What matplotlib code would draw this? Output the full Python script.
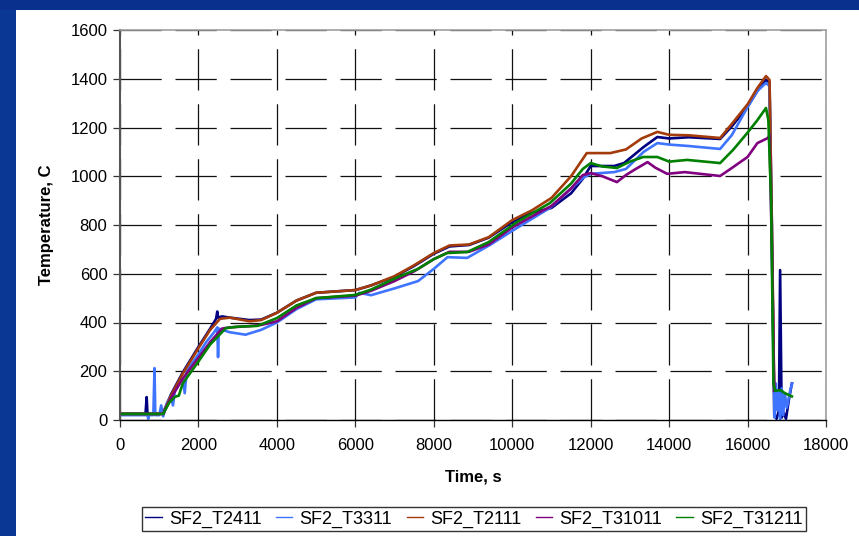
import matplotlib
matplotlib.use("Agg")
import matplotlib.pyplot as plt
from matplotlib.patches import Rectangle
from matplotlib.lines import Line2D
import numpy as np

plt.rcParams['font.family'] = ['Liberation Sans', 'DejaVu Sans']

# Thermocouple traces: (time s, temperature C)
t_2411 = [0, 650, 680, 700, 720, 1000, 1100, 1300, 1600, 2000, 2300, 2450, 2480, 2500, 2600, 2800, 3300, 3600,
          4000, 4500, 5000, 6000, 6400, 7000, 7500, 8000, 8400, 8900, 9400, 10000, 10500, 11000, 11500, 11800,
          12000, 12600, 12850, 13350, 13700, 14000, 14500, 15300, 15600, 16000, 16250, 16470, 16560, 16620,
          16680, 16740, 16800, 16830, 16870, 16920, 16980, 17050, 17130]
T_2411 = [25, 25, 94, 25, 25, 25, 30, 105, 195, 300, 375, 415, 445, 420, 425, 420, 410, 412,
          440, 490, 522, 533, 552, 588, 632, 682, 712, 718, 748, 812, 850, 870, 930, 990,
          1042, 1042, 1054, 1120, 1161, 1155, 1160, 1153, 1205, 1285, 1350, 1395, 1385, 800,
          20, 5, 40, 615, 10, 30, 5, 80, 150]

t_3311 = [0, 700, 720, 740, 850, 880, 900, 920, 1000, 1050, 1100, 1200, 1300, 1350, 1400, 1600, 1650, 1700,
          2000, 2200, 2400, 2480, 2500, 2520, 2600, 2800, 3200, 3600, 4000, 4500, 5000, 6000, 6100, 6400,
          7000, 7600, 8000, 8350, 8850, 9430, 10120, 10960, 11800, 12000, 12600, 12900, 13350, 13700, 14000,
          14500, 15300, 15600, 16000, 16250, 16470, 16560, 16620, 16660, 16690, 16720, 16760, 16790, 16830,
          16870, 16910, 16950, 17000, 17050, 17100, 17140]
T_3311 = [20, 20, 5, 20, 20, 213, 20, 20, 20, 60, 15, 70, 100, 60, 120, 170, 110, 200,
          270, 320, 360, 380, 258, 375, 370, 360, 350, 370, 400, 455, 495, 503, 522, 512,
          540, 570, 620, 668, 665, 718, 788, 870, 993, 1010, 1017, 1030, 1100, 1136, 1130,
          1124, 1112, 1169, 1284, 1350, 1383, 1370, 700, 260, 10, 150, 40, 120, 0, 130, 20, 110, 50, 90, 130, 150]

t_2111 = [0, 1100, 1300, 1600, 2000, 2300, 2550, 2800, 3300, 3600, 4000, 4500, 5000, 6000, 6400, 7000, 7500,
          8000, 8400, 8900, 9400, 10000, 10500, 11000, 11500, 11900, 12500, 12900, 13300, 13700, 14000, 14500,
          15300, 15600, 16000, 16250, 16470, 16560, 16620, 16680]
T_2111 = [25, 25, 100, 190, 295, 370, 415, 420, 405, 410, 440, 490, 522, 533, 552, 590, 635,
          685, 716, 720, 750, 820, 860, 911, 1000, 1095, 1095, 1110, 1155, 1182, 1170, 1168,
          1157, 1215, 1295, 1362, 1411, 1395, 800, 120]

t_31011 = [0, 1100, 1300, 1600, 2000, 2300, 2600, 2800, 3300, 3600, 4000, 4500, 5000, 6000, 6400, 7000,
           7500, 8000, 8400, 8900, 9400, 10000, 10500, 11000, 11500, 11800, 12000, 12300, 12670, 12900, 13150,
           13450, 13650, 13950, 14400, 15300, 15600, 16000, 16250, 16520, 16560, 16620, 16680]
T_31011 = [25, 25, 90, 170, 255, 320, 375, 380, 385, 390, 405, 460, 500, 510, 530, 570,
           610, 660, 690, 690, 720, 790, 835, 878, 950, 1005, 1013, 1000, 976, 1005, 1030,
           1058, 1035, 1010, 1017, 1001, 1034, 1079, 1136, 1157, 1170, 700, 120]

t_31211 = [0, 1100, 1250, 1400, 1500, 1600, 2000, 2300, 2700, 3000, 3500, 4000, 4500, 5000, 6000, 6400,
           7100, 7600, 8000, 8340, 8850, 9400, 10120, 10960, 11500, 11800, 12000, 12300, 12670, 13000, 13340,
           13700, 14000, 14460, 15300, 15630, 15990, 16250, 16470, 16530, 16600, 16660, 16700, 16850, 16950,
           17130]
T_31211 = [25, 25, 70, 95, 100, 150, 240, 310, 377, 383, 386, 418, 470, 500, 513, 535,
           587, 620, 660, 685, 689, 730, 812, 890, 970, 1030, 1054, 1040, 1034, 1060, 1079,
           1079, 1060, 1067, 1054, 1108, 1177, 1230, 1280, 1231, 900, 150, 120, 122, 110,
           97]

series = [
    ("SF2_T2411", t_2411, T_2411, "#000080"),
    ("SF2_T3311", t_3311, T_3311, "#3f74ff"),
    ("SF2_T2111", t_2111, T_2111, "#a33c0a"),
    ("SF2_T31011", t_31011, T_31011, "#800080"),
    ("SF2_T31211", t_31211, T_31211, "#008000"),
]

W, H = 859, 536
fig = plt.figure(figsize=(W / 100, H / 100), dpi=100, facecolor="white")
# blue slide frame along the left and top edges
fig.patches.append(Rectangle((0, 0), 16 / W, 1, transform=fig.transFigure,
                             facecolor="#0a3694", edgecolor="none", zorder=-5))
fig.patches.append(Rectangle((0, 1 - 10 / H), 1, 10 / H, transform=fig.transFigure,
                             facecolor="#08308c", edgecolor="none", zorder=-5))

ax = fig.add_axes([120 / W, (H - 420) / H, (826 - 120) / W, (420 - 30) / H])
ax.set_facecolor("white")

for name, t, T, c in series:
    ax.plot(t, T, color=c, lw=1.9, label=name, solid_joinstyle="round")

ax.set_xlim(0, 18000)
ax.set_ylim(0, 1600)
ax.set_xticks(np.arange(0, 18001, 2000))
ax.set_yticks(np.arange(0, 1601, 200))

ax.grid(True, color="#111111", lw=0.9, linestyle=(0, (33, 11)))
ax.set_axisbelow(True)

for side in ("top", "right"):
    ax.spines[side].set_color("#a0a0a0")
    ax.spines[side].set_linewidth(1.2)
ax.spines["left"].set_color("#555555")
ax.spines["left"].set_linewidth(1.5)
ax.spines["bottom"].set_color("black")
ax.spines["bottom"].set_linewidth(1.0)

ax.tick_params(axis="both", direction="out", length=5, width=0.9, labelsize=12, color="#333333", pad=4)
ax.tick_params(axis="x", pad=8)

ax.set_xlabel("Time, s", fontsize=12, fontweight="bold", labelpad=12)
ax.set_ylabel("Temperature, C", fontsize=12, fontweight="bold", labelpad=12)

handles = [Line2D([0], [0], color=c, lw=1.0) for _, _, _, c in series]
leg = fig.legend(handles, [s[0] for s in series], loc="center", ncol=5,
                 bbox_to_anchor=(474 / W, 1 - 519 / H), fontsize=13, frameon=True,
                 fancybox=False, edgecolor="black", handlelength=0.9, handletextpad=0.4,
                 columnspacing=0.8, borderpad=0.2, borderaxespad=0)
leg.get_frame().set_linewidth(1.0)

fig.savefig("out.png", dpi=100, facecolor=fig.get_facecolor())
